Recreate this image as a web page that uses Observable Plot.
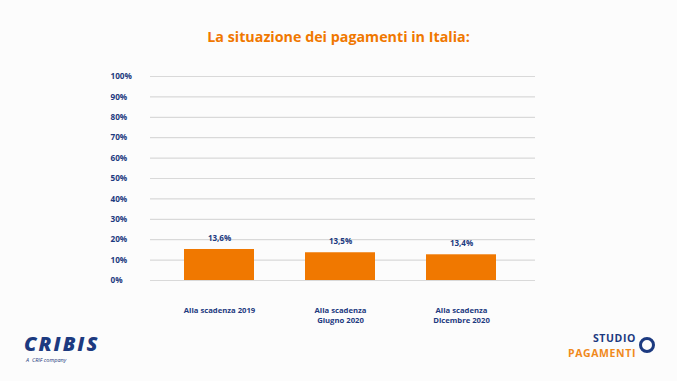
<!DOCTYPE html>
<html>
<head>
<meta charset="utf-8">
<script src="https://cdn.jsdelivr.net/npm/d3@7"></script>
<script src="https://cdn.jsdelivr.net/npm/@observablehq/plot@0.6"></script>
<style>
  html, body { margin: 0; padding: 0; }
  body { width: 677px; height: 381px; background: #fcfcfc; position: relative; overflow: hidden; font-family: "Open Sans", sans-serif; }
  #title { height: 58px; box-sizing: border-box; padding-top: 27px; text-align: center; color: #f07800; font-weight: 700; font-size: 14.3px; line-height: 20px; }
  #chart svg { display: block; }
  .logo-l { position: absolute; left: 24px; top: 332px; color: #1c3a80; }
  .logo-l .big { font-family: "Open Sans", sans-serif; font-weight: 800; font-style: italic; font-size: 20px; letter-spacing: 2px; line-height: 24px; }
  .logo-l .small { font-size: 5.5px; font-style: italic; line-height: 8px; margin-left: 2px; }
  .logo-r { position: absolute; right: 22px; top: 331px; text-align: right; font-family: "Open Sans", sans-serif; font-weight: 700; }
  .logo-r .s { color: #1c3a80; font-size: 10.5px; letter-spacing: 0.6px; line-height: 14.5px; margin-right: 19px; }
  .logo-r .p { color: #f08a1c; font-size: 10.5px; letter-spacing: 0.6px; line-height: 14.5px; margin-right: 19px; }
  .logo-r .ring { position: absolute; right: 0; top: 6px; width: 10px; height: 10px; border: 3.5px solid #1c3a80; border-radius: 50%; }
</style>
</head>
<body>
<div id="title">La situazione dei pagamenti in Italia:</div>
<div id="chart"></div>
<div class="logo-l"><div class="big">CRIBIS</div><div class="small">A&nbsp; CRIF company</div></div>
<div class="logo-r"><div class="s">STUDIO</div><div class="p">PAGAMENTI</div><div class="ring"></div></div>
<script>
const categories = ["Alla scadenza 2019", "Alla scadenza\nGiugno 2020", "Alla scadenza\nDicembre 2020"];
const barValues = [15.2, 13.6, 12.6];          // bar heights as drawn (%)
const valueLabels = ["13,6%", "13,5%", "13,4%"]; // printed labels
const yTicks = [0, 10, 20, 30, 40, 50, 60, 70, 80, 90, 100];

const data = categories.map((c, i) => ({cat: c, value: barValues[i], label: valueLabels[i]}));
const navy = "#1c3a80";
const orange = "#f07800";

const chart = Plot.plot({
  width: 677,
  height: 323,
  marginTop: 18,
  marginBottom: 101,
  marginLeft: 150,
  marginRight: 142,
  style: {background: "transparent", fontFamily: "'Open Sans', sans-serif"},
  x: {domain: categories, paddingInner: 0.425, paddingOuter: 0.274, insetRight: 5, label: null},
  y: {domain: [0, 100], label: null},
  marks: [
    Plot.ruleY(yTicks, {stroke: "#d9d9d9", strokeWidth: 1.2}),
    Plot.barY(data, {x: "cat", y: "value", fill: orange}),
    Plot.text(data, {x: "cat", y: "value", text: "label", dy: -11, fill: navy, fontSize: 8, fontWeight: 700}),
    Plot.axisY({ticks: yTicks, tickFormat: d => d + "%", tickSize: 0, tickPadding: 0, textAnchor: "start", dx: -40, fill: navy, fontSize: 8.2, fontWeight: 700}),
    Plot.axisX({tickSize: 0, tickPadding: 26, lineAnchor: "top", fill: navy, fontSize: 7.7, fontWeight: 700, lineHeight: 1.25})
  ]
});
document.getElementById("chart").appendChild(chart);
</script>
</body>
</html>
